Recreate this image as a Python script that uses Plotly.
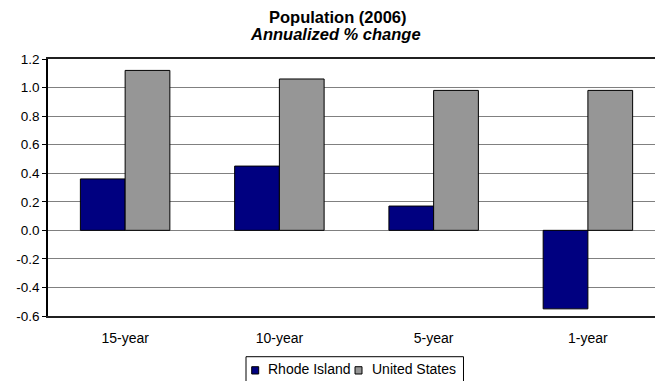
import plotly.graph_objects as go

# Population growth, annualized % change (2006)
periods = ["15-year", "10-year", "5-year", "1-year"]
rhode_island = [0.36, 0.45, 0.17, -0.55]
united_states = [1.12, 1.06, 0.98, 0.98]
y_ticks = [-0.6, -0.4, -0.2, 0.0, 0.2, 0.4, 0.6, 0.8, 1.0, 1.2]
series_names = ["Rhode Island", "United States"]

NAVY = "#000080"
GRAY = "#969696"
FONT = "Liberation Sans, Arial, sans-serif"

fig = go.Figure()
fig.add_bar(x=periods, y=rhode_island, name=series_names[0],
            marker=dict(color=NAVY, line=dict(color="black", width=1)))
fig.add_bar(x=periods, y=united_states, name=series_names[1],
            marker=dict(color=GRAY, line=dict(color="black", width=1)))

# Title lines
fig.add_annotation(text="<b>Population (2006)</b>", xref="paper", yref="paper",
                   x=0.477, y=1.163, xanchor="center", yanchor="middle",
                   showarrow=False, font=dict(size=16.5, family=FONT))
fig.add_annotation(text="<b><i>Annualized % change</i></b>", xref="paper", yref="paper",
                   x=0.474, y=1.097, xanchor="center", yanchor="middle",
                   showarrow=False, font=dict(size=16.5, family=FONT))

# Boxed legend below the chart with small square keys
fig.add_shape(type="rect", xref="paper", yref="paper",
              x0=0.3262, x1=0.6845, y0=-0.1584, y1=-0.27,
              line=dict(color="black", width=1), fillcolor="white", layer="above")
legend_keys = [(0.3356, 0.3591), (0.5058, 0.5305)]
for (kx, tx), name, color in zip(legend_keys, series_names, [NAVY, GRAY]):
    fig.add_shape(type="rect", xref="paper", yref="paper",
                  x0=kx, x1=kx + 0.0115, y0=-0.1973, y1=-0.2257,
                  line=dict(color="black", width=1), fillcolor=color, layer="above")
    fig.add_annotation(text=name, xref="paper", yref="paper",
                       x=tx, y=-0.2075, xanchor="left", yanchor="middle",
                       showarrow=False, font=dict(size=14, family=FONT))

fig.update_layout(
    width=655, height=381,
    margin=dict(l=48, r=0, t=59, b=65, autoexpand=False),
    paper_bgcolor="white", plot_bgcolor="white",
    font=dict(family=FONT, size=13.5, color="black"),
    barmode="group", bargap=0.42, bargroupgap=0,
    showlegend=False,
)

fig.update_xaxes(
    type="category", range=[-0.5, 3.435],
    showline=True, linecolor="#202020", linewidth=2, mirror=True,
    showgrid=False, ticks="", ticklabelstandoff=8,
    tickfont=dict(size=14),
)
fig.update_yaxes(
    range=[-0.6, 1.2], tickvals=y_ticks,
    ticktext=[f"{v:.1f}" for v in y_ticks],
    showline=True, linecolor="black", linewidth=1.5,
    ticks="outside", ticklen=4, tickcolor="black",
    showgrid=True, gridcolor="#808080", gridwidth=1,
    zeroline=True, zerolinecolor="#808080", zerolinewidth=1,
    tickfont=dict(size=13.5),
)

fig.write_html("out.html")
